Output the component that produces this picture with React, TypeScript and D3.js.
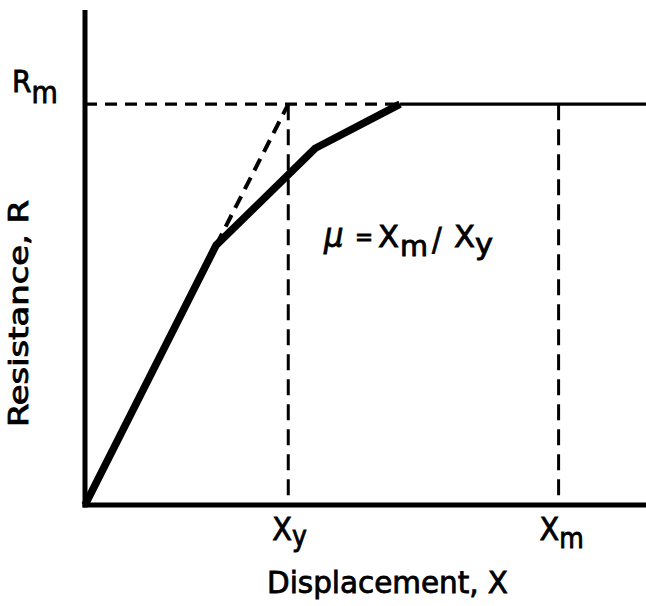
import React, { useEffect, useRef } from "react";
import * as d3 from "d3";

// displacement in units of Xy, resistance in units of Rm
const xDomain = [0, 2.76];
const yDomain = [0, 1.235];
const resistanceCurve: [number, number][] = [
  [0, 0],
  [0.645, 0.648],
  [1.133, 0.89],
  [1.55, 1.0],
];
const plateau: [number, number][] = [
  [1.55, 1.0],
  [2.76, 1.0],
];
const elasticExtension: [number, number][] = [
  [0.645, 0.648],
  [1.0, 1.0],
];
const Xy = 1.0;
const Xm = 2.33;
const Rm = 1.0;

const W = 646;
const H = 606;
const FONT = "'DejaVu Sans Condensed', 'DejaVu Sans', sans-serif";

export default function App() {
  const ref = useRef<SVGSVGElement>(null);

  useEffect(() => {
    const svg = d3.select(ref.current);
    svg.selectAll("*").remove();

    const x = d3.scaleLinear().domain(xDomain).range([85, 646]);
    const y = d3.scaleLinear().domain(yDomain).range([505, 10]);
    const line = d3
      .line<[number, number]>()
      .x((d) => x(d[0]))
      .y((d) => y(d[1]));

    const g = svg.append("g");

    // dashed reference lines
    g.append("path")
      .attr("d", line([[0, Rm], [plateau[0][0], Rm]]))
      .attr("stroke", "#000")
      .attr("stroke-width", 3.2)
      .attr("stroke-dasharray", "12,8")
      .attr("fill", "none");
    [Xy, Xm].forEach((v) => {
      g.append("path")
        .attr("d", line([[v, Rm], [v, 0]]))
        .attr("stroke", "#000")
        .attr("stroke-width", 3)
        .attr("stroke-dasharray", "16,9")
        .attr("fill", "none");
    });
    g.append("path")
      .attr("d", line(elasticExtension))
      .attr("stroke", "#000")
      .attr("stroke-width", 4)
      .attr("stroke-dasharray", "13,8")
      .attr("fill", "none");

    // plateau at Rm
    g.append("path")
      .attr("d", line(plateau))
      .attr("stroke", "#000")
      .attr("stroke-width", 3.2)
      .attr("fill", "none");

    // resistance function
    g.append("path")
      .attr("d", line(resistanceCurve))
      .attr("stroke", "#000")
      .attr("stroke-width", 7.5)
      .attr("stroke-linejoin", "round")
      .attr("fill", "none");

    // axes
    g.append("line")
      .attr("x1", x(0))
      .attr("x2", x(0))
      .attr("y1", y(yDomain[1]))
      .attr("y2", y(0) + 2.5)
      .attr("stroke", "#000")
      .attr("stroke-width", 5);
    g.append("line")
      .attr("x1", x(0) - 2.5)
      .attr("x2", x(xDomain[1]))
      .attr("y1", y(0))
      .attr("y2", y(0))
      .attr("stroke", "#000")
      .attr("stroke-width", 5);

    const t = svg
      .append("g")
      .attr("font-family", FONT)
      .attr("fill", "#000")
      .attr("stroke", "#000")
      .attr("stroke-width", 0.8);

    // Rm label
    const rm = t.append("text").attr("x", 12).attr("y", 92).attr("font-size", 31);
    rm.append("tspan").text("R");
    rm.append("tspan").attr("dy", 11).attr("font-size", 30).text("m");

    // Xy / Xm labels
    const xy = t.append("text").attr("x", x(Xy) - 16).attr("y", 540).attr("font-size", 32);
    xy.append("tspan").text("X");
    xy.append("tspan").attr("dy", 6).attr("font-size", 28).text("y");
    const xm = t.append("text").attr("x", x(Xm) - 19).attr("y", 540).attr("font-size", 32);
    xm.append("tspan").text("X");
    xm.append("tspan").attr("dy", 8).attr("font-size", 28).text("m");

    // axis titles
    t.append("text")
      .attr("x", 267)
      .attr("y", 593)
      .attr("font-size", 31)
      .attr("textLength", 241)
      .attr("lengthAdjust", "spacingAndGlyphs")
      .text("Displacement,  X");
    t.append("text")
      .attr("transform", "translate(28,427) rotate(-90)")
      .attr("font-size", 26)
      .attr("textLength", 227)
      .attr("lengthAdjust", "spacingAndGlyphs")
      .text("Resistance,  R");

    // ductility ratio  μ = Xm / Xy
    t.append("text").attr("x", 324).attr("y", 247).attr("font-size", 34)
      .attr("font-style", "italic").text("μ");
    t.append("text").attr("x", 355).attr("y", 245).attr("font-size", 24).text("=");
    t.append("text").attr("x", 378).attr("y", 247).attr("font-size", 30)
      .attr("textLength", 21).attr("lengthAdjust", "spacingAndGlyphs").text("X");
    t.append("text").attr("x", 400).attr("y", 256).attr("font-size", 29)
      .attr("textLength", 28).attr("lengthAdjust", "spacingAndGlyphs").text("m");
    t.append("text").attr("x", 432).attr("y", 250).attr("font-size", 32).text("/");
    t.append("text").attr("x", 454).attr("y", 247).attr("font-size", 30)
      .attr("textLength", 21).attr("lengthAdjust", "spacingAndGlyphs").text("X");
    t.append("text").attr("x", 475).attr("y", 254).attr("font-size", 28)
      .attr("textLength", 18).attr("lengthAdjust", "spacingAndGlyphs").text("y");
  }, []);

  return (
    <svg
      ref={ref}
      width={W}
      height={H}
      style={{ position: "absolute", left: 0, top: 0, background: "#fff" }}
    />
  );
}
